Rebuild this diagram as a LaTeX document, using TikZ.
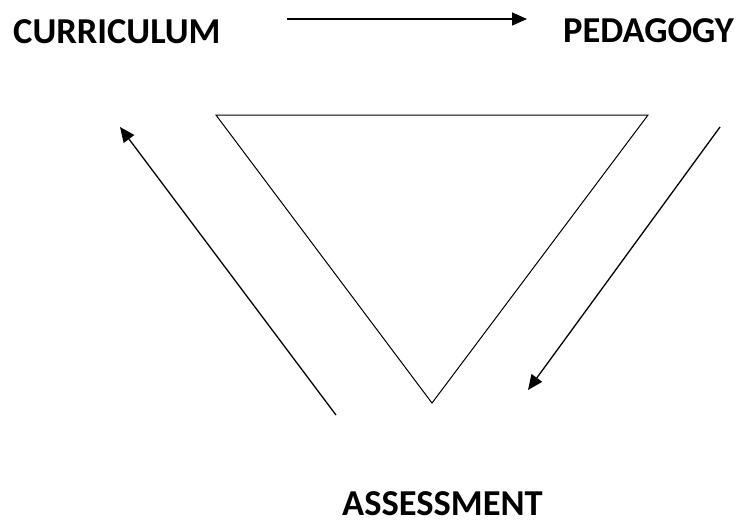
\documentclass[tikz,border=0pt]{standalone}
\usepackage{fontspec}
\setmainfont{Carlito}
\usetikzlibrary{arrows.meta}
\tikzset{
  label text/.style={font=\fontsize{36.5}{40}\selectfont\bfseries, inner sep=0pt, anchor=base west},
  cycle arrow/.style={line width=1.3pt, -{Triangle[length=15pt,width=13pt]}},
  frame line/.style={line width=1pt}
}
\begin{document}
\begin{tikzpicture}[x=1pt,y=-1pt]
  \useasboundingbox (0,0) rectangle (737,520);
  % stage labels
  \node[label text] (curr) at (13,43) {CURRICULUM};
  \node[label text] (peda) at (563,42) {PEDAGOGY};
  \node[label text] (asse) at (342,515.5) {ASSESSMENT};
  % inverted triangle
  \coordinate (tl) at (216,115);
  \coordinate (tr) at (648,115);
  \coordinate (bt) at (432,403);
  \draw[frame line, line join=miter] (tl) -- (tr) -- (bt) -- cycle;
  % arrow end points
  \coordinate (a1s) at (287,19);
  \coordinate (a1e) at (527,19);
  \coordinate (a2s) at (720,127);
  \coordinate (a2e) at (528,390);
  \coordinate (a3s) at (336,415);
  \coordinate (a3e) at (120,127);
  \draw[cycle arrow] (a1s) -- (a1e);
  \draw[cycle arrow] (a2s) -- (a2e);
  \draw[cycle arrow] (a3s) -- (a3e);
\end{tikzpicture}
\end{document}
